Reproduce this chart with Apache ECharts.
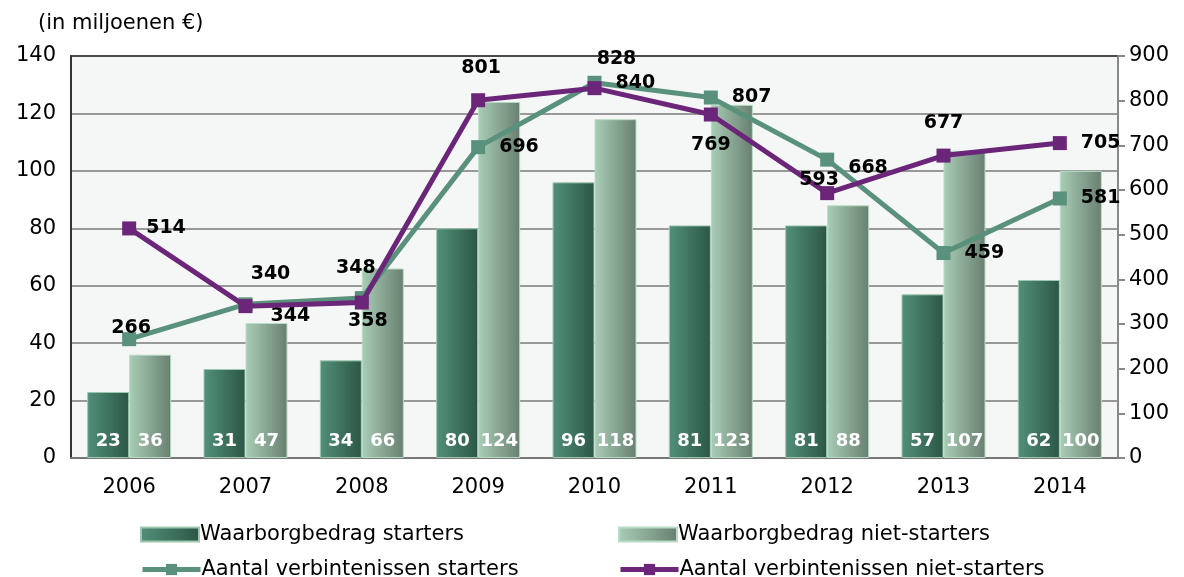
<!DOCTYPE html>
<html>
<head>
<meta charset="utf-8">
<script src="https://cdn.jsdelivr.net/npm/echarts@6/dist/echarts.min.js"></script>
<style>
  html, body { margin: 0; padding: 0; background: #fff; }
  #chart { width: 1184px; height: 577px; }
</style>
</head>
<body>
<div id="chart"></div>
<script>
// data
const years = ['2006', '2007', '2008', '2009', '2010', '2011', '2012', '2013', '2014']
const bedragStarters = [23, 31, 34, 80, 96, 81, 81, 57, 62]
const bedragNietStarters = [36, 47, 66, 124, 118, 123, 88, 107, 100]
const aantalStarters = [266, 344, 358, 696, 840, 807, 668, 459, 581]
const aantalNietStarters = [514, 340, 348, 801, 828, 769, 593, 677, 705]

// label placement per point: [position, distance, offsetX, offsetY]
const lblStarters = [
    ['top', 1, 2, 6], ['right', 12, 6, 12], ['bottom', 6, 6, 0], ['right', 14, 0, 0], ['right', 14, 0, 0],
    ['right', 14, 0, 0], ['right', 14, 0, 8], ['right', 14, 0, 0], ['right', 14, 0, 0],
]
const lblNietStarters = [
    ['right', 10, 0, 0], ['top', 16, 25, 0], ['top', 18, -6, 0], ['top', 16, 3, 0], ['top', 13, 22, 0],
    ['bottom', 14, 0, 0], ['top', 2, -8, 5], ['top', 16, 0, 0], ['right', 14, 0, 0],
]

const font = 'DejaVu Sans'
let chart = echarts.init(document.getElementById('chart'))

function grad(c1, c2) {
    return new echarts.graphic.LinearGradient(0, 0, 1, 0, [
        { offset: 0, color: c1 },
        { offset: 1, color: c2 },
    ])
}

function withLabels(values, cfg) {
    return values.map((v, i) => ({
        value: v,
        label: { position: cfg[i][0], distance: cfg[i][1], offset: [cfg[i][2], cfg[i][3]] },
    }))
}

let lineLabel = {
    show: true,
    color: '#000',
    fontFamily: font,
    fontWeight: 'bold',
    fontSize: 19,
}

let barLabel = {
    show: true,
    position: 'insideBottom',
    distance: 8,
    color: '#fff',
    fontFamily: font,
    fontWeight: 'bold',
    fontSize: 18,
}

let legendBase = {
    itemWidth: 58,
    itemHeight: 14,
    itemGap: 0,
    textStyle: { fontFamily: font, fontSize: 21, color: '#000', padding: [0, 0, 0, -4] },
}

chart.setOption({
    animation: false,
    textStyle: { fontFamily: font },
    title: {
        text: '(in miljoenen €)',
        left: 33,
        top: 8,
        textStyle: { fontFamily: font, fontSize: 21, fontWeight: 'normal', color: '#000' },
    },
    grid: {
        left: 71,
        right: 66,
        top: 56,
        bottom: 119,
        show: true,
        backgroundColor: '#f5f7f6',
        borderColor: '#111',
        borderWidth: 1.5,
    },
    legend: [
        { ...legendBase, left: 135, top: 519, data: [{ name: 'Waarborgbedrag starters', icon: 'rect' }] },
        { ...legendBase, left: 613, top: 519, data: [{ name: 'Waarborgbedrag niet-starters', icon: 'rect' }] },
        { ...legendBase, left: 135, top: 554, data: [{ name: 'Aantal verbintenissen starters', lineStyle: { width: 5 } }] },
        { ...legendBase, left: 613, top: 554, data: [{ name: 'Aantal verbintenissen niet-starters', lineStyle: { width: 5 } }] },
    ],
    xAxis: {
        type: 'category',
        data: years,
        axisLine: { lineStyle: { color: '#777', width: 2 } },
        axisTick: { show: false },
        axisLabel: { fontFamily: font, fontSize: 21, color: '#000', margin: 19 },
    },
    yAxis: [
        {
            type: 'value',
            min: 0,
            max: 140,
            interval: 20,
            axisLine: { show: true, lineStyle: { color: '#333', width: 2 } },
            axisTick: { show: false },
            axisLabel: { fontFamily: font, fontSize: 21, color: '#000', margin: 15 },
            splitLine: { showMinLine: false, showMaxLine: false, lineStyle: { color: '#999', width: 2 } },
        },
        {
            type: 'value',
            min: 0,
            max: 900,
            interval: 100,
            position: 'right',
            axisLine: { show: true, lineStyle: { color: '#888', width: 2 } },
            axisTick: { show: true, length: 7, lineStyle: { color: '#888', width: 2 } },
            axisLabel: { fontFamily: font, fontSize: 21, color: '#000', margin: 11 },
            splitLine: { show: false },
        },
    ],
    series: [
        {
            name: 'Waarborgbedrag starters',
            type: 'bar',
            data: bedragStarters,
            barWidth: 42,
            barGap: '0%',
            itemStyle: { color: grad('#52907a', '#2c5646'), borderColor: '#9fc7b0', borderWidth: 1 },
            label: barLabel,
            z: 2,
        },
        {
            name: 'Waarborgbedrag niet-starters',
            type: 'bar',
            data: bedragNietStarters,
            barWidth: 42,
            itemStyle: { color: grad('#a9cdb6', '#687f70'), borderColor: '#b8dcc6', borderWidth: 1 },
            label: barLabel,
            z: 2,
        },
        {
            name: 'Aantal verbintenissen starters',
            type: 'line',
            yAxisIndex: 1,
            data: withLabels(aantalStarters, lblStarters),
            symbol: 'rect',
            symbolSize: 14,
            color: '#5a917d',
            lineStyle: { width: 5, color: '#5a917d' },
            itemStyle: { color: '#5a917d' },
            label: lineLabel,
            z: 5,
        },
        {
            name: 'Aantal verbintenissen niet-starters',
            type: 'line',
            yAxisIndex: 1,
            data: withLabels(aantalNietStarters, lblNietStarters),
            symbol: 'rect',
            symbolSize: 14,
            color: '#6b2679',
            lineStyle: { width: 5, color: '#6b2679' },
            itemStyle: { color: '#6b2679' },
            label: lineLabel,
            z: 6,
        },
    ],
})
</script>
</body>
</html>
